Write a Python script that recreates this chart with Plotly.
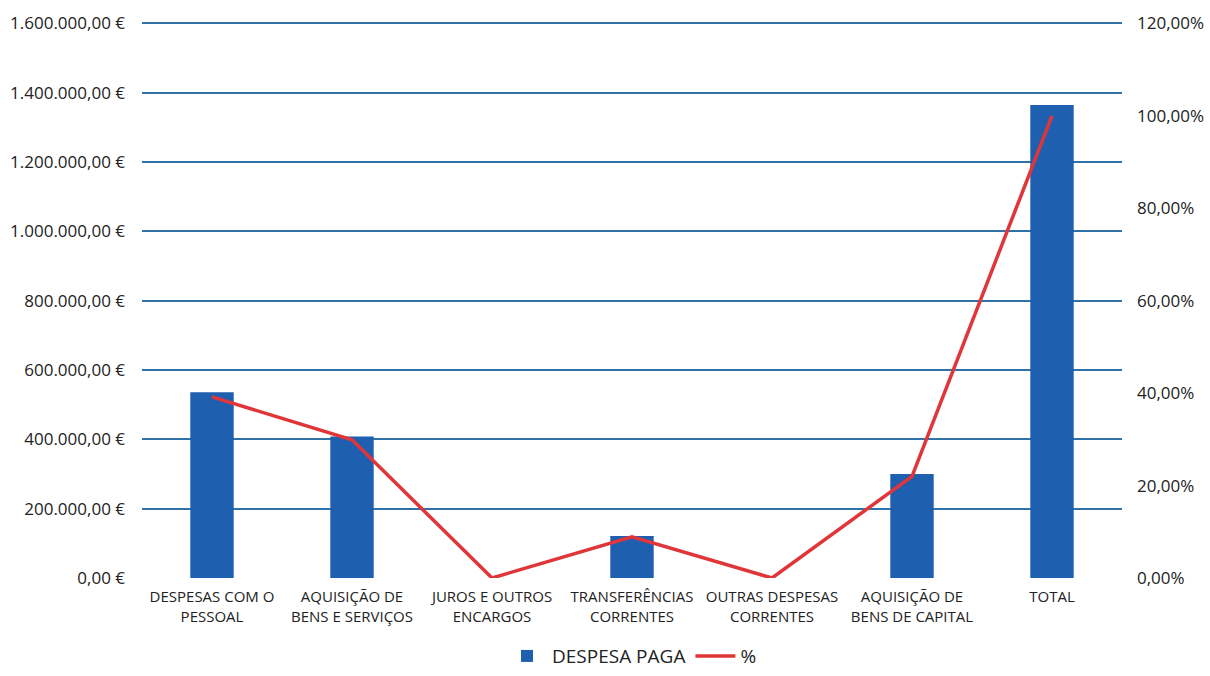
import plotly.graph_objects as go

categories = ["DESPESAS COM O<br>PESSOAL", "AQUISIÇÃO DE<br>BENS E SERVIÇOS", "JUROS E OUTROS<br>ENCARGOS",
              "TRANSFERÊNCIAS<br>CORRENTES", "OUTRAS DESPESAS<br>CORRENTES", "AQUISIÇÃO DE<br>BENS DE CAPITAL", "TOTAL"]
despesa_paga = [536000, 408000, 0, 121000, 0, 300000, 1365000]
percent = [39.2, 29.9, 0.0, 8.9, 0.0, 22.0, 100.0]

left_ticks = [0, 200000, 400000, 600000, 800000, 1000000, 1200000, 1400000, 1600000]
left_labels = ["0,00 €", "200.000,00 €", "400.000,00 €", "600.000,00 €", "800.000,00 €",
               "1.000.000,00 €", "1.200.000,00 €", "1.400.000,00 €", "1.600.000,00 €"]
right_ticks = [0, 20, 40, 60, 80, 100, 120]
right_labels = ["0,00%", "20,00%", "40,00%", "60,00%", "80,00%", "100,00%", "120,00%"]

fig = go.Figure()
fig.add_trace(go.Bar(x=categories, y=despesa_paga, name="DESPESA PAGA",
                     marker=dict(color="#1F5FAF", line=dict(width=0)),
                     width=0.31))
fig.add_trace(go.Scatter(x=categories, y=percent, name="%", yaxis="y2", mode="lines",
                         line=dict(color="#E0363A", width=3.5)))

font = "Open Sans, Noto Sans, sans-serif"
fig.update_layout(
    width=1210, height=676,
    margin=dict(l=142, r=88, t=20, b=98, autoexpand=False),
    paper_bgcolor="white", plot_bgcolor="white",
    font=dict(family=font, color="#222222", size=15),
    xaxis=dict(showgrid=False, showline=False, ticks="", automargin=False,
               ticklabelstandoff=8, tickfont=dict(size=15, color="#222222")),
    yaxis=dict(range=[0, 1610000], tickvals=left_ticks, ticktext=left_labels,
               showgrid=True, gridcolor="#2F72A8", gridwidth=1.5, zeroline=False,
               showline=False, ticks="", ticklabelstandoff=16, automargin=False,
               tickfont=dict(size=17, color="#222222")),
    yaxis2=dict(range=[0, 120.75], tickvals=right_ticks, ticktext=right_labels, overlaying="y",
                side="right", showgrid=False, zeroline=False, showline=False, ticks="",
                ticklabelstandoff=14, automargin=False, tickfont=dict(size=17, color="#222222")),
    legend=dict(orientation="h", x=0.5, xanchor="center", y=-0.174, yanchor="bottom",
                font=dict(size=19, color="#222222"), itemwidth=40),
    showlegend=True,
)
fig.write_html("out.html", config={"displayModeBar": False},
               post_script="document.body.style.margin='0';")
